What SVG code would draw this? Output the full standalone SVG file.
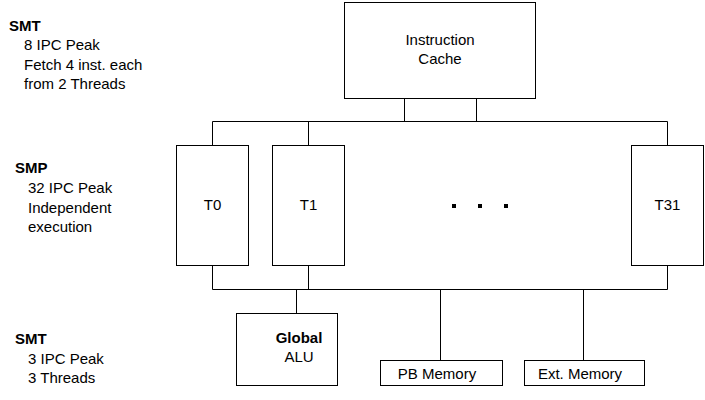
<svg xmlns="http://www.w3.org/2000/svg" width="705" height="400" viewBox="0 0 705 400">
<style>
text{font-family:"Liberation Sans",Arial,sans-serif;font-size:15px;fill:#000}
.b{font-weight:bold}
.c{text-anchor:middle}
rect.n{fill:#fff;stroke:#000;stroke-width:1}
#connectors path{fill:none;stroke:#000;stroke-width:1}
</style>
<rect width="705" height="400" fill="#fff"/>
<g id="connectors">
<path d="M404.5 98V121.5M476.5 98V121.5M212.5 121.5H667.5M212.5 121.5V145M308.5 121.5V145M667.5 121.5V145"/>
<path d="M212.5 265V289.5H667.5V265M308.5 265V289.5M296.5 289.5V313M440.5 289.5V360M583.5 289.5V360"/>
</g>
<g id="labels">
<text x="9" y="31" class="b">SMT</text>
<text x="24" y="50">8 IPC Peak</text>
<text x="24" y="70">Fetch 4 inst. each</text>
<text x="24" y="89">from 2 Threads</text>
<text x="15" y="173" class="b">SMP</text>
<text x="28" y="193">32 IPC Peak</text>
<text x="28" y="213">Independent</text>
<text x="28" y="232">execution</text>
<text x="15" y="344" class="b">SMT</text>
<text x="28" y="364">3 IPC Peak</text>
<text x="28" y="383">3 Threads</text>
</g>
<g id="icache">
<rect class="n" x="344.5" y="2.5" width="191" height="96"/>
<text x="440" y="45" class="c">Instruction</text>
<text x="440" y="64" class="c">Cache</text>
</g>
<g id="t0">
<rect class="n" x="176.5" y="145.5" width="72" height="120"/>
<text x="212.5" y="210" class="c">T0</text>
</g>
<g id="t1">
<rect class="n" x="272.5" y="145.5" width="72" height="120"/>
<text x="308.5" y="210" class="c">T1</text>
</g>
<g id="t31">
<rect class="n" x="631.5" y="145.5" width="72" height="120"/>
<text x="667.5" y="210" class="c">T31</text>
</g>
<g id="dots">
<rect x="452" y="204" width="4" height="4"/>
<rect x="478" y="204" width="4" height="4"/>
<rect x="504" y="204" width="4" height="4"/>
</g>
<g id="alu">
<rect class="n" x="236.5" y="313.5" width="101" height="72"/>
<text x="299" y="343" class="c b">Global</text>
<text x="299" y="362" class="c">ALU</text>
</g>
<g id="pbmem">
<rect class="n" x="380.5" y="360.5" width="122" height="25"/>
<text x="437" y="379" class="c">PB Memory</text>
</g>
<g id="extmem">
<rect class="n" x="524.5" y="360.5" width="120" height="25"/>
<text x="580" y="379" class="c">Ext. Memory</text>
</g>
</svg>
